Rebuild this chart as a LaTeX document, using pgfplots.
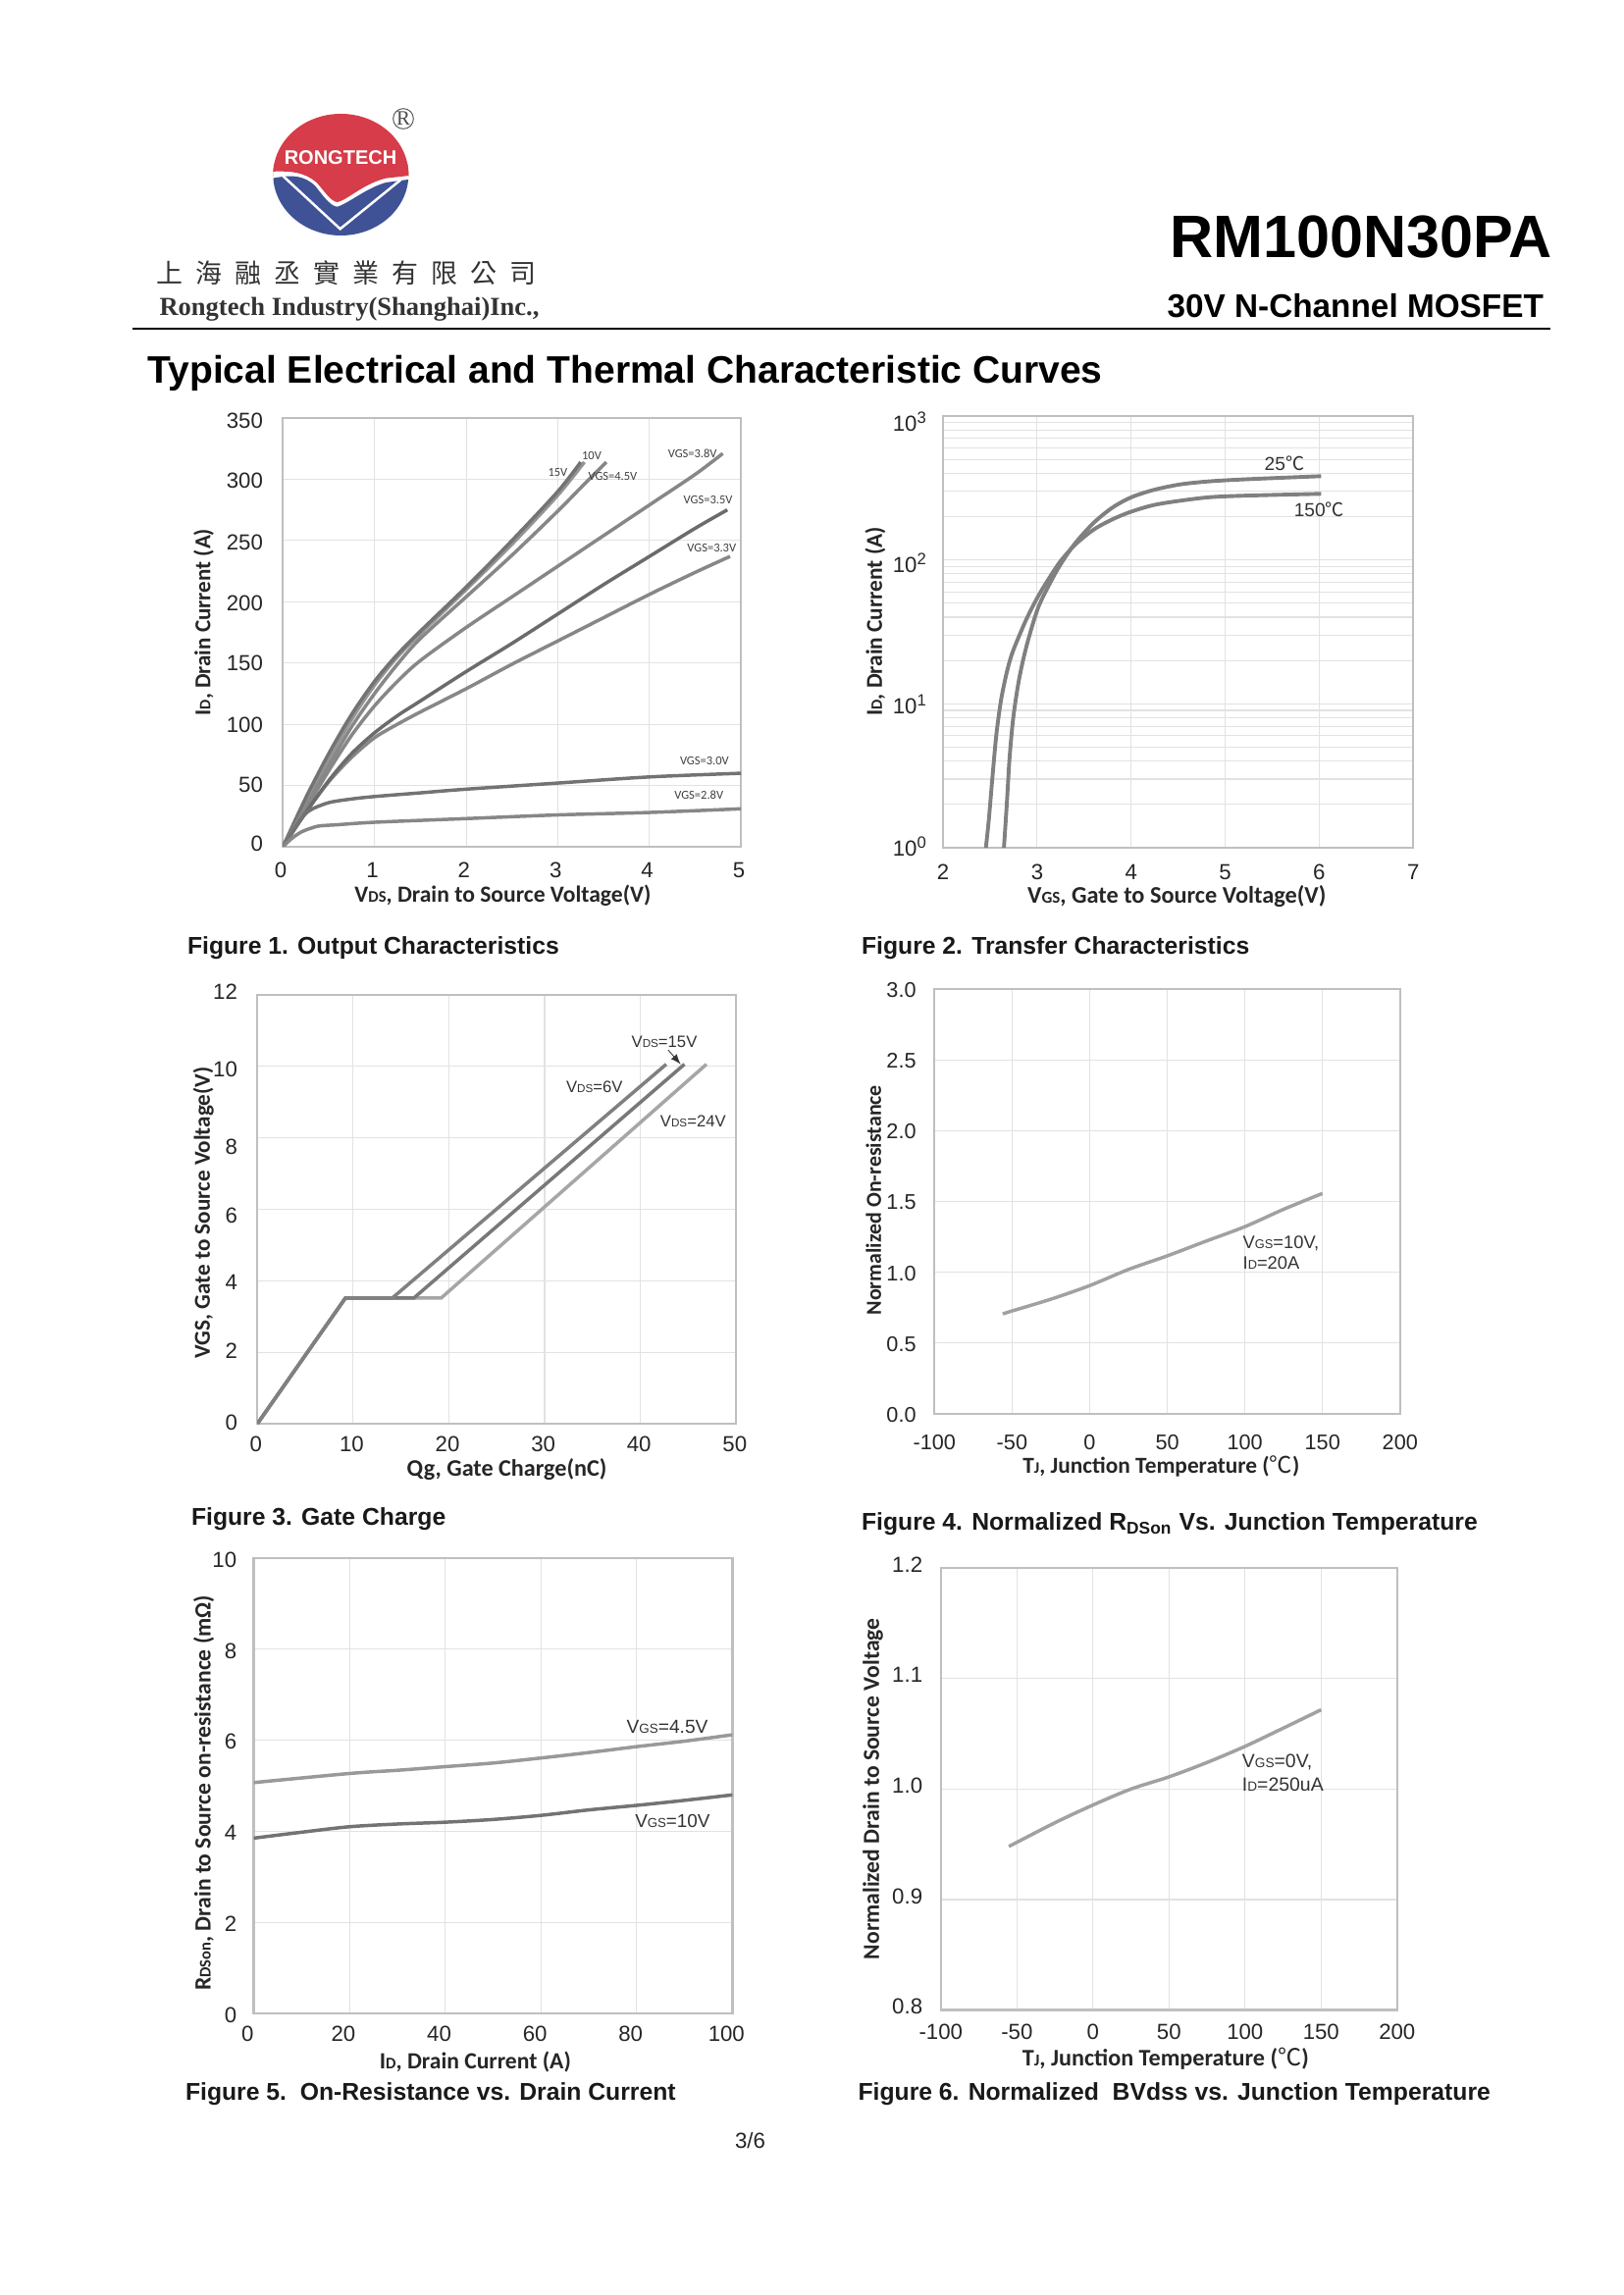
\documentclass[border=0pt]{standalone}
\usepackage{fontspec}
\usepackage{graphicx}
\usepackage{pgfplots}
\pgfplotsset{compat=1.18}
\setmainfont{Liberation Sans}
\newfontfamily\cbr{Carlito}
\newfontfamily\cjk{Noto Sans CJK TC}
\newfontfamily\lserif{Liberation Serif}

% page pixels to points (A4 at 200 dpi)
\newcommand{\px}[1]{\fpeval{#1*0.36}pt}
\newcommand{\fs}[1]{\fontsize{#1}{#1}\selectfont}
\newcommand{\sub}[1]{\scalebox{.7}{#1}}
\newcommand{\degc}{{\cjk\mdseries ℃}}
\newcommand{\axlab}[1]{\cbr\bfseries\fs{#1}}
% tick label nudged up or down, the reference's labels are not evenly spaced
\newcommand{\nudge}[2]{\raisebox{#1}[5.7pt][0pt]{#2}}
\newcommand{\nudgeexp}[2]{\raisebox{#1}[7pt][0pt]{10\textsuperscript{#2}}}

\definecolor{framec}{HTML}{BFBFBF}
\definecolor{gridc}{HTML}{E2E2E2}
\definecolor{logored}{HTML}{D63C49}
\definecolor{logoblue}{HTML}{3F5296}

\pgfplotsset{
  mos/.style={
    scale only axis, anchor=north west,
    axis line style={draw=framec, line width=.85pt},
    grid=major, grid style={gridc, line width=.4pt},
    major tick length=0pt, minor tick length=0pt,
    tick label style={font=\fs{8}, text=black!85},
    label style={text=black!85},
    /pgf/number format/assume math mode=true,
    every axis plot/.append style={line width=1.25pt, no markers},
  },
}
\tikzset{
  lbl/.style={font=\cbr\fs{4.5}, text=black!75, inner sep=0pt},
  ann/.style={font=\fs{6}, text=black!80, inner sep=0pt, align=left},
  figcap/.style={anchor=west, inner sep=0pt, font=\bfseries\fs{8.9}, text=black!90},
}

\begin{document}
\begin{tikzpicture}
\useasboundingbox (0,0) rectangle (\px{1654},\px{-2339});
\fill[white] (0,0) rectangle (\px{1654},\px{-2339});

% logo
\begin{scope}[shift={(\px{260},\px{-100})}, x=0.12pt, y=-0.12pt]
  \begin{scope}
    \clip (262,234) ellipse [x radius=207, y radius=186];
    \fill[logored] (40,30) rectangle (490,240);
    \fill[white] (40,222) rectangle (490,440);
    \fill[logored] (40,225) .. controls (110,222) and (150,225) .. (190,260)
      .. controls (215,290) and (235,318) .. (252,318)
      .. controls (285,310) and (330,262) .. (400,245) -- (490,235) -- (490,200) -- (40,200) -- cycle;
    \fill[logoblue] (40,248) .. controls (110,232) and (150,235) .. (185,270)
      .. controls (215,310) and (235,332) .. (252,332)
      .. controls (285,322) and (340,275) .. (400,258) -- (490,246) -- (490,440) -- (40,440) -- cycle;
    \draw[white, line width=.9pt] (85,238) -- (260,400) -- (445,250);
  \end{scope}
  \node[font=\bfseries\fs{7.2}, text=white, inner sep=0pt] at (261,182) {RONGTECH};
  \draw[black!65, line width=.35pt] (453,63) circle [radius=31];
  \node[font=\lserif\fs{7.5}, text=black!70, inner sep=0pt] at (453,63) {R};
\end{scope}

% page header
\node[anchor=west, inner sep=0pt, font=\cjk\fs{9.7}, text=black!80] at (\px{159},\px{-278.5})
  {上\hspace{4.7pt}海\hspace{4.7pt}融\hspace{4.7pt}丞\hspace{4.7pt}實\hspace{4.7pt}業\hspace{4.7pt}有\hspace{4.7pt}限\hspace{4.7pt}公\hspace{4.7pt}司};
\node[anchor=base west, inner sep=0pt, font=\lserif\bfseries\fs{9.55}, text=black!80] at (\px{162},\px{-322})
  {Rongtech Industry(Shanghai)Inc.,};
\node[anchor=base west, inner sep=0pt, font=\bfseries\fs{22}] at (\px{1192},\px{-263}) {RM100N30PA};
\node[anchor=base west, inner sep=0pt, font=\bfseries\fs{12}] at (\px{1189},\px{-324}) {30V N-Channel MOSFET};
\draw[black, line width=.8pt] (\px{135},\px{-335}) -- (\px{1580},\px{-335});
\node[anchor=base west, inner sep=0pt, font=\bfseries\fs{14.05}] at (\px{150},\px{-391})
  {Typical Electrical and Thermal Characteristic Curves};

% Figure 1
\begin{axis}[mos,
  at={(\px{288.3},\px{-426})}, width=\px{466.9}, height=\px{437},
  xmin=0, xmax=5, ymin=0, ymax=350,
  xtick={0,1,2,3,4,5}, ytick={0,50,100,150,200,250,300,350},
  yticklabels={\nudge{1.1pt}{0},\nudge{.5pt}{50},\nudge{0pt}{100},\nudge{0pt}{150},\nudge{-.5pt}{200},\nudge{-.5pt}{250},\nudge{-.5pt}{300},\nudge{-1.1pt}{350}},
  x tick label style={yshift=-2.2pt, xshift=-.8pt},
  y tick label style={xshift=-3.8pt},
  xlabel={V\sub{DS}, Drain to Source Voltage(V)},
  ylabel={I\sub{D}, Drain Current (A)},
  x label style={font=\axlab{8.5}, at={(axis description cs:.48,-.114)}, anchor=center},
  y label style={font=\axlab{8.3}, at={(axis description cs:-.173,.524)}, anchor=center},
]
\addplot[smooth, color=black!42] coordinates {(0,0)(.25,36)(.5,71)(.75,104)(1,132)(1.25,155)(1.5,174)(2,210)(2.5,247)(3,287)(3.29,314)};
\addplot[smooth, color=black!55] coordinates {(0,0)(.25,40)(.5,76)(.75,108)(1,135)(1.25,157)(1.5,176)(2,212)(2.5,250)(3,290)(3.25,314)};
\addplot[smooth, color=black!47] coordinates {(0,0)(.25,33)(.5,66)(.75,98)(1,125)(1.25,149)(1.5,170)(2,204)(2.5,238)(3,274)(3.25,293)(3.53,314)};
\addplot[smooth, color=black!47] coordinates {(0,0)(.25,31)(.5,62)(.75,91)(1,115)(1.25,135)(1.5,152)(2,179)(2.5,204)(3,229)(3.5,254)(4,279)(4.5,304)(4.8,321)};
\addplot[smooth, color=black!47] coordinates {(0,0)(.25,28)(.5,53)(.75,73)(1,89)(1.25,100)(1.5,110)(2,129)(2.5,149)(3,168)(3.5,187)(4,206)(4.5,224)(4.88,237)};
\addplot[smooth, color=black!58] coordinates {(0,0)(.25,28)(.5,54)(.75,76)(1,93)(1.25,107)(1.5,119)(2,143)(2.5,166)(3,190)(3.5,214)(4,237)(4.5,260)(4.85,275)};
\addplot[smooth, color=black!55] coordinates {(0,0)(.1,12)(.2,23)(.3,30)(.5,36)(.75,39)(1,41)(1.5,44)(2,47)(3,52)(4,57)(5,60)};
\addplot[smooth, color=black!47] coordinates {(0,0)(.1,7)(.2,12)(.3,15)(.4,17)(.6,18)(1,20)(2,23)(3,26)(4,28)(5,31)};
\node[lbl] at (axis cs:3.0,305.5) {15V};
\node[lbl] at (axis cs:3.37,319) {10V};
\node[lbl] at (axis cs:3.6,302) {VGS=4.5V};
\node[lbl] at (axis cs:4.47,321) {VGS=3.8V};
\node[lbl] at (axis cs:4.64,283) {VGS=3.5V};
\node[lbl] at (axis cs:4.68,244) {VGS=3.3V};
\node[lbl] at (axis cs:4.6,70) {VGS=3.0V};
\node[lbl] at (axis cs:4.54,42) {VGS=2.8V};
\end{axis}

% Figure 2
\begin{axis}[mos,
  at={(\px{961.1},\px{-424})}, width=\px{479.1}, height=\px{440},
  ymode=log, xmin=2, xmax=7, ymin=1, ymax=1000,
  xtick={2,3,4,5,6,7}, ytick={1,10,100,1000},
  yticklabels={\nudgeexp{.5pt}{0},\nudgeexp{0pt}{1},\nudgeexp{-1pt}{2},\nudgeexp{-2pt}{3}},
  minor ytick={2,3,4,5,6,7,8,9,20,30,40,50,60,70,80,90,200,300,400,500,600,700,800,900},
  ymajorgrids=true, yminorgrids=true, xmajorgrids=true,
  minor grid style={gridc, line width=.4pt},
  x tick label style={yshift=-2.7pt},
  y tick label style={xshift=-2.2pt},
  xlabel={V\sub{GS}, Gate to Source Voltage(V)},
  ylabel={I\sub{D}, Drain Current (A)},
  x label style={font=\axlab{8.75}, at={(axis description cs:.497,-.112)}, anchor=center},
  y label style={font=\axlab{8.4}, at={(axis description cs:-.1444,.524)}, anchor=center},
]
\addplot[smooth, color=black!50, line width=1.4pt] coordinates {(2.455,1)(2.487,1.59)(2.527,3.22)(2.567,6.17)(2.615,10.5)(2.667,15.5)(2.715,20.5)(2.767,25.5)(2.887,38.9)(3.006,55.2)(3.126,74.4)(3.246,97.5)(3.406,128)(3.605,163)(3.805,192)(4.005,217)(4.244,241)(4.524,258)(4.843,273)(5.243,280)(6.02,288)};
\addplot[smooth, color=black!50, line width=1.4pt] coordinates {(2.647,1)(2.679,2.09)(2.707,4.22)(2.747,8.08)(2.807,14.7)(2.887,25.2)(3.006,45.7)(3.126,66.8)(3.246,92.4)(3.406,131)(3.605,182)(3.805,232)(4.005,273)(4.244,307)(4.524,335)(4.843,352)(5.243,364)(6.02,382)};
\node[ann, font=\fs{6.9}] at (axis cs:5.63,469) {25\degc};
\node[ann, font=\fs{6.9}] at (axis cs:6.0,224) {150\degc};
\end{axis}

% Figure 3
\begin{axis}[mos,
  at={(\px{262.3},\px{-1014})}, width=\px{487.9}, height=\px{437},
  xmin=0, xmax=50, ymin=0, ymax=12,
  xtick={0,10,20,30,40,50}, ytick={0,2,4,6,8,10,12},
  yticklabels={\nudge{.5pt}{0},\nudge{.5pt}{2},\nudge{-.5pt}{4},\nudge{-2.2pt}{6},\nudge{-3.2pt}{8},\nudge{-1.1pt}{10},\nudge{1.1pt}{12}},
  x tick label style={yshift=-1.1pt, xshift=-.5pt},
  y tick label style={xshift=-3.8pt},
  xlabel={Qg, Gate Charge(nC)},
  ylabel={VGS, Gate to Source Voltage(V)},
  x label style={font=\axlab{8.7}, at={(axis description cs:.521,-.1075)}, anchor=center},
  y label style={font=\axlab{8.33}, at={(axis description cs:-.113,.492)}, anchor=center},
]
\addplot[color=black!35] coordinates {(0,0)(9.2,3.52)(19.2,3.52)(46.9,10.06)};
\addplot[color=black!53] coordinates {(0,0)(9.2,3.52)(16.35,3.52)(44.6,10.06)};
\addplot[color=black!50] coordinates {(0,0)(9.2,3.52)(14.1,3.52)(42.7,10.06)};
\node[ann] at (axis cs:42.5,10.7) {V\sub{DS}=15V};
\node[ann] at (axis cs:35.2,9.42) {V\sub{DS}=6V};
\node[ann] at (axis cs:45.5,8.47) {V\sub{DS}=24V};
\draw[-latex, black!80, line width=.3pt] (axis cs:42.9,10.46) -- (axis cs:44.2,10.06);
\end{axis}

% Figure 4
\begin{axis}[mos,
  at={(\px{952.3},\px{-1008})}, width=\px{474.5}, height=\px{433},
  xmin=-100, xmax=200, ymin=0, ymax=3,
  xtick={-100,-50,0,50,100,150,200}, xticklabels={-100,-50,0,50,100,150,200},
  ytick={0,.5,1,1.5,2,2.5,3}, yticklabels={0.0,0.5,1.0,1.5,2.0,2.5,3.0},
  tick label style={font=\fs{7.8}, text=black!85},
  x tick label style={yshift=-4.3pt},
  y tick label style={xshift=-3.2pt, yshift=-.4pt},
  xlabel={T\sub{J}, Junction Temperature (\degc)},
  ylabel={Normalized On-resistance},
  x label style={font=\axlab{8.4}, at={(axis description cs:.487,-.1245)}, anchor=center},
  y label style={font=\axlab{7.9}, at={(axis description cs:-.131,.503)}, anchor=center},
]
\addplot[smooth, color=black!37] coordinates {(-56,.706)(-50,.727)(-25,.81)(0,.906)(25,1.02)(50,1.116)(75,1.22)(100,1.322)(125,1.445)(150,1.557)};
\node[ann, anchor=west, font=\fs{6.6}] at (axis cs:98.4,1.204) {V\sub{GS}=10V,};
\node[ann, anchor=west, font=\fs{6.6}] at (axis cs:98.4,1.068) {I\sub{D}=20A};
\end{axis}

% Figure 5
\begin{axis}[mos,
  at={(\px{258.5},\px{-1588})}, width=\px{487.9}, height=\px{464},
  xmin=0, xmax=100, ymin=0, ymax=10,
  xtick={0,20,40,60,80,100}, ytick={0,2,4,6,8,10},
  x tick label style={xshift=-2.2pt, yshift=-1.1pt},
  y tick label style={xshift=-2.7pt, yshift=-.6pt},
  xlabel={I\sub{D}, Drain Current (A)},
  ylabel={R\sub{DSon}, Drain to Source on-resistance (mΩ)},
  x label style={font=\axlab{8.5}, at={(axis description cs:.463,-.1056)}, anchor=center},
  y label style={font=\axlab{8.5}, at={(axis description cs:-.104,.484)}, anchor=center},
]
\addplot[smooth, color=black!40] coordinates {(0,5.07)(20,5.27)(30,5.34)(40,5.42)(50,5.5)(60,5.61)(70,5.73)(80,5.86)(90,5.98)(100,6.12)};
\addplot[smooth, color=black!55] coordinates {(0,3.85)(10,3.98)(20,4.1)(30,4.16)(40,4.2)(50,4.26)(60,4.35)(70,4.47)(80,4.57)(90,4.68)(100,4.8)};
\node[ann, font=\fs{6.9}] at (axis cs:86.4,6.29) {V\sub{GS}=4.5V};
\node[ann, font=\fs{6.8}] at (axis cs:87.5,4.22) {V\sub{GS}=10V};
\end{axis}

% Figure 6
\begin{axis}[mos,
  at={(\px{958.8},\px{-1598})}, width=\px{465}, height=\px{450.6},
  xmin=-100, xmax=200, ymin=.8, ymax=1.2,
  xtick={-100,-50,0,50,100,150,200}, xticklabels={-100,-50,0,50,100,150,200},
  ytick={.8,.9,1,1.1,1.2}, yticklabels={0.8,0.9,1.0,1.1,1.2},
  x tick label style={yshift=-1.6pt},
  y tick label style={xshift=-3.2pt, yshift=1.3pt},
  xlabel={T\sub{J}, Junction Temperature (\degc)},
  ylabel={Normalized Drain to Source Voltage},
  x label style={font=\axlab{8.7}, at={(axis description cs:.4925,-.11)}, anchor=center},
  y label style={font=\axlab{8.5}, at={(axis description cs:-.1486,.5)}, anchor=center},
]
\addplot[smooth, color=black!37] coordinates {(-55.3,.948)(-25,.9695)(0,.9855)(25,1)(50,1.011)(75,1.024)(100,1.0386)(125,1.055)(150,1.0717)};
\node[ann, anchor=west, font=\fs{7}] at (axis cs:97.8,1.024) {V\sub{GS}=0V,};
\node[ann, anchor=west, font=\fs{7}] at (axis cs:97.8,1.004) {I\sub{D}=250uA};
\end{axis}

% captions
\node[figcap] at (\px{190.5},\px{-966}) {Figure 1. Output Characteristics};
\node[figcap] at (\px{877.5},\px{-966}) {Figure 2. Transfer Characteristics};
\node[figcap] at (\px{194.5},\px{-1548}) {Figure 3. Gate Charge};
\node[figcap] at (\px{877.5},\px{-1553.5}) {Figure 4. Normalized R\textsubscript{DSon} Vs. Junction Temperature};
\node[figcap] at (\px{188.5},\px{-2134}) {Figure 5.~~On-Resistance vs. Drain Current};
\node[figcap] at (\px{874},\px{-2134}) {Figure 6. Normalized~~BVdss vs. Junction Temperature};
\node[inner sep=0pt, font=\fs{8}, text=black!85] at (\px{764.5},\px{-2182}) {3/6};
\end{tikzpicture}
\end{document}
